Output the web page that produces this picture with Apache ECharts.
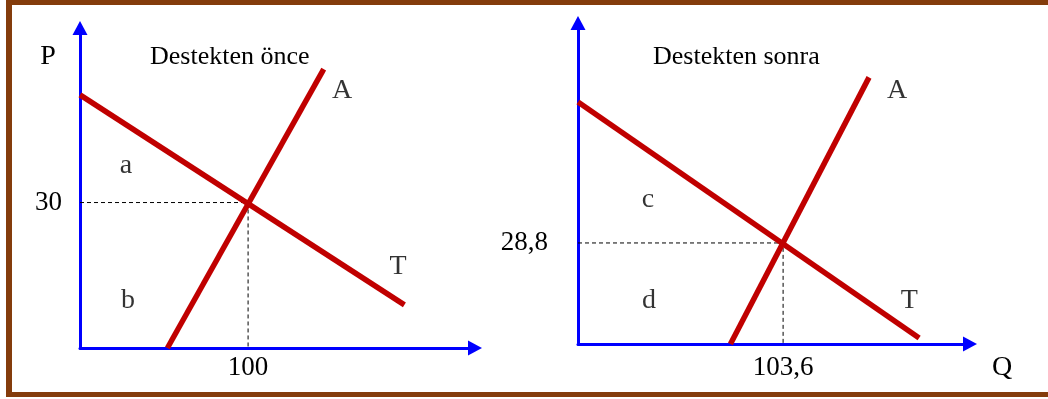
<!DOCTYPE html>
<html>
<head>
<meta charset="utf-8">
<script src="https://cdn.jsdelivr.net/npm/echarts@6/dist/echarts.min.js"></script>
<style>
  html, body { margin: 0; padding: 0; background: #fff; }
  #frame {
    position: absolute; left: 6px; top: 0; width: 1100px; height: 397px;
    border-left: 6px solid #843c0c; border-top: 5px solid #843c0c; border-bottom: 5px solid #843c0c;
    box-sizing: border-box; pointer-events: none; z-index: 2;
  }
  #myChart { position: absolute; left: 0; top: 0; width: 1048px; height: 399px; }
</style>
</head>
<body>
<div id="myChart"></div>
<div id="frame"></div>
<script>
// panel titles
const titles = ["Destekten önce", "Destekten sonra"];

// before (left panel): equilibrium and curves, [Q, P]
const eqBefore = [100, 30];
const demandBefore = [[0, 52.2], [193, 8.9]];
const supplyBefore = [[52, 0], [145, 57.5]];
const labelsBefore = [
  { name: "a", value: [27.4, 37.7] },
  { name: "b", value: [28.6, 9.7] },
  { name: "A", value: [155.9, 53.0] },
  { name: "T", value: [189.2, 16.7] },
];

// after (right panel)
const eqAfter = [103.6, 28.8];
const demandAfter = [[0, 69.0], [172.3, 1.7]];
const supplyAfter = [[77, 0], [147, 76]];
const labelsAfter = [
  { name: "c", value: [35.4, 41.1] },
  { name: "d", value: [35.9, 12.5] },
  { name: "A", value: [161.2, 72.1] },
  { name: "T", value: [167.3, 12.5] },
];

const serif = "Liberation Serif";
const blue = "#0000ff";
const red = "#c00000";
const fmt = (v) => String(v).replace(".", ",");

function axisLine() {
  return {
    show: true,
    symbol: ["none", "triangle"],
    symbolSize: [15, 14],
    lineStyle: { color: blue, width: 3 },
  };
}

function xAxis(idx, max, tick, margin, name) {
  return {
    gridIndex: idx, type: "value", min: 0, max: max,
    axisLine: axisLine(),
    axisTick: { show: false },
    splitLine: { show: false },
    axisLabel: {
      customValues: [tick], formatter: fmt, margin: margin,
      color: "#000", fontSize: 27, fontFamily: serif,
    },
    name: name || "",
    nameLocation: "end",
    nameGap: 22,
    nameTextStyle: { color: "#000", fontSize: 28, fontFamily: serif, verticalAlign: "top", lineHeight: 48 },
  };
}

function yAxis(idx, max, tick, margin, shiftUp, name) {
  return {
    gridIndex: idx, type: "value", min: 0, max: max,
    axisLine: axisLine(),
    axisTick: { show: false },
    splitLine: { show: false },
    axisLabel: {
      customValues: [tick], formatter: fmt, margin: margin,
      color: "#000", fontSize: 27, fontFamily: serif,
      padding: [0, 0, shiftUp * 2, 0],
    },
    name: name || "",
    nameLocation: "end",
    nameGap: -43,
    nameTextStyle: { color: "#000", fontSize: 28, fontFamily: serif, padding: [0, 64, 0, 0] },
  };
}

function panelSeries(idx, eq, demand, supply, labels) {
  return [
    {
      type: "line", xAxisIndex: idx, yAxisIndex: idx, z: 1,
      data: [[0, eq[1]], eq, [eq[0], 0]],
      symbol: "none",
      lineStyle: { color: "#000", width: 1, type: [4, 3] },
    },
    {
      type: "line", xAxisIndex: idx, yAxisIndex: idx, z: 3,
      data: demand, symbol: "none",
      lineStyle: { color: red, width: 5.5 },
    },
    {
      type: "line", xAxisIndex: idx, yAxisIndex: idx, z: 3,
      data: supply, symbol: "none",
      lineStyle: { color: red, width: 5.5 },
    },
    {
      type: "scatter", xAxisIndex: idx, yAxisIndex: idx, z: 4,
      data: labels, symbolSize: 1, clip: false,
      itemStyle: { color: "rgba(0,0,0,0)" },
      label: {
        show: true, position: "inside", formatter: "{b}",
        color: "#000", fontSize: 28, fontFamily: serif,
      },
    },
  ];
}

let myChart = echarts.init(document.getElementById("myChart"));
myChart.setOption({
  animation: false,
  title: [
    { text: titles[0], left: 150, top: 44, padding: 0,
      textStyle: { color: "#000", fontSize: 26, fontWeight: "normal", fontFamily: serif } },
    { text: titles[1], left: 653, top: 44, padding: 0,
      textStyle: { color: "#000", fontSize: 26, fontWeight: "normal", fontFamily: serif } },
  ],
  grid: [
    { left: 80, top: 28, width: 395, height: 320 },
    { left: 578, top: 23, width: 392, height: 321 },
  ],
  xAxis: [
    xAxis(0, 235, eqBefore[0], 6),
    xAxis(1, 198, eqAfter[0], 10, "Q"),
  ],
  yAxis: [
    yAxis(0, 66, eqBefore[1], 18, 4, "P"),
    yAxis(1, 91.5, eqAfter[1], 30, 9),
  ],
  series: [
    ...panelSeries(0, eqBefore, demandBefore, supplyBefore, labelsBefore),
    ...panelSeries(1, eqAfter, demandAfter, supplyAfter, labelsAfter),
  ],
});
</script>
</body>
</html>
